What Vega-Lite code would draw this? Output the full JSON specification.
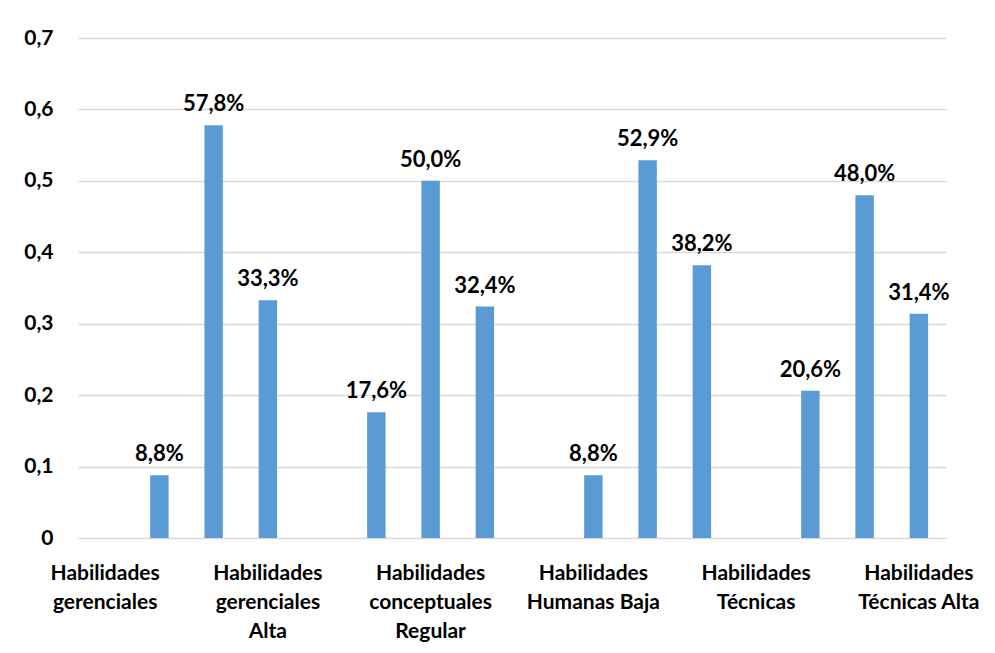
{
  "$schema": "https://vega.github.io/schema/vega-lite/v6.json",
  "width": 868,
  "height": 500,
  "autosize": {"type": "none"},
  "padding": {"left": 78, "top": 38, "right": 49, "bottom": 115},
  "background": "white",
  "config": {
    "locale": {"number": {"decimal": ",", "thousands": ".", "grouping": [3], "currency": ["", " €"]}},
    "view": {"stroke": null},
    "font": "Lato"
  },
  "data": {
    "values": [
      {"posicion": 1, "proporcion": 0.088},
      {"posicion": 2, "proporcion": 0.578},
      {"posicion": 3, "proporcion": 0.333},
      {"posicion": 5, "proporcion": 0.176},
      {"posicion": 6, "proporcion": 0.5},
      {"posicion": 7, "proporcion": 0.324},
      {"posicion": 9, "proporcion": 0.088},
      {"posicion": 10, "proporcion": 0.529},
      {"posicion": 11, "proporcion": 0.382},
      {"posicion": 13, "proporcion": 0.206},
      {"posicion": 14, "proporcion": 0.48},
      {"posicion": 15, "proporcion": 0.314}
    ]
  },
  "encoding": {
    "x": {
      "field": "posicion",
      "type": "ordinal",
      "scale": {"domain": [0,1,2,3,4,5,6,7,8,9,10,11,12,13,14,15], "paddingInner": 0.66, "paddingOuter": 0.33},
      "axis": {
        "title": null,
        "values": [0, 3, 6, 9, 12, 15],
        "labelExpr": "{'0': ['Habilidades', 'gerenciales'], '3': ['Habilidades', 'gerenciales', 'Alta'], '6': ['Habilidades', 'conceptuales', 'Regular'], '9': ['Habilidades', 'Humanas Baja'], '12': ['Habilidades', 'Técnicas'], '15': ['Habilidades', 'Técnicas Alta']}[datum.value]",
        "labelAngle": 0,
        "labelAlign": "center",
        "labelBaseline": "top",
        "labelFont": "Lato",
        "labelFontSize": 21,
        "labelFontWeight": "bold",
        "labelColor": "#000000",
        "labelLineHeight": 29,
        "labelPadding": 24,
        "labelOverlap": false,
        "labelBound": false,
        "labelFlush": false,
        "domain": false,
        "ticks": false,
        "grid": false
      }
    },
    "y": {
      "field": "proporcion",
      "type": "quantitative",
      "scale": {"domain": [0, 0.7], "nice": false, "zero": true},
      "axis": {
        "title": null,
        "values": [0, 0.1, 0.2, 0.3, 0.4, 0.5, 0.6, 0.7],
        "format": ".1f",
        "labelExpr": "datum.value == 0 ? '0' : datum.label",
        "labelFont": "Lato",
        "labelFontSize": 21,
        "labelFontWeight": "bold",
        "labelColor": "#000000",
        "labelPadding": 25,
        "domain": false,
        "ticks": false,
        "grid": true,
        "gridColor": "#d9d9d9",
        "gridWidth": 1.5
      }
    }
  },
  "layer": [
    {"mark": {"type": "bar", "color": "#5b9bd5"}},
    {
      "mark": {"type": "text", "baseline": "alphabetic", "dy": -14, "font": "Lato", "fontSize": 22, "fontWeight": "bold", "color": "#000000"},
      "encoding": {"text": {"field": "proporcion", "type": "quantitative", "format": ".1%"}}
    }
  ]
}
